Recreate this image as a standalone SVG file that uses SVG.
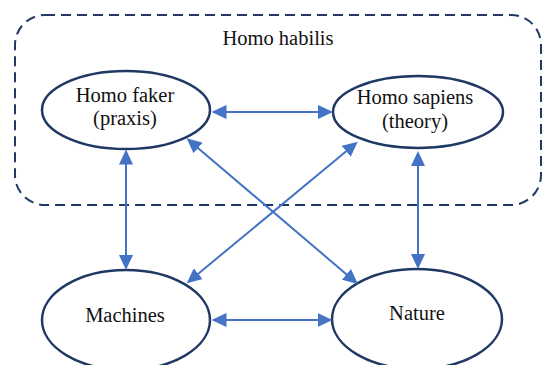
<svg xmlns="http://www.w3.org/2000/svg" width="542" height="365" viewBox="0 0 542 365">
<style>
.node ellipse{fill:#fff;stroke:#1f3864;stroke-width:2.5}
text{font-family:'Liberation Serif','Times New Roman',serif;font-size:20.5px;fill:#111;text-anchor:middle}
.conn line{stroke:#4472c4;stroke-width:2;marker-start:url(#ah);marker-end:url(#ah)}
</style>
<defs>
<marker id="ah" markerUnits="userSpaceOnUse" viewBox="0 0 15 14" refX="11" refY="7" markerWidth="15" markerHeight="14" orient="auto-start-reverse">
<path d="M0,0 L15,7 L0,14 z" fill="#4472c4"/>
</marker>
</defs>
<g id="habilis">
<rect x="15" y="15" width="526" height="190" rx="30" fill="none" stroke="#1f3864" stroke-width="2" stroke-dasharray="10,6"/>
<text x="278" y="45" font-family="Liberation Serif, serif">Homo habilis</text>
</g>
<g id="faker" class="node">
<ellipse cx="126" cy="110" rx="84" ry="39"/>
<text x="125" y="102" font-family="Liberation Serif, serif">Homo faker</text>
<text x="125" y="125" font-family="Liberation Serif, serif">(praxis)</text>
</g>
<g id="sapiens" class="node">
<ellipse cx="418" cy="112" rx="85" ry="36"/>
<text x="415" y="104" font-family="Liberation Serif, serif">Homo sapiens</text>
<text x="415" y="128" font-family="Liberation Serif, serif">(theory)</text>
</g>
<g id="machines" class="node">
<ellipse cx="126" cy="320" rx="84" ry="50"/>
<text x="125" y="322" font-family="Liberation Serif, serif">Machines</text>
</g>
<g id="nature" class="node">
<ellipse cx="417" cy="319" rx="85" ry="50"/>
<text x="417" y="320" font-family="Liberation Serif, serif">Nature</text>
</g>
<g id="connectors" class="conn">
<line x1="215.5" y1="112" x2="329" y2="112"/>
<line x1="126" y1="153.5" x2="126" y2="266"/>
<line x1="418" y1="155" x2="418" y2="265"/>
<line x1="215.5" y1="320" x2="328.5" y2="320"/>
<line x1="189.7" y1="140.9" x2="354.8" y2="281.4"/>
<line x1="354.7" y1="144.3" x2="189.8" y2="280.7"/>
</g>
</svg>
